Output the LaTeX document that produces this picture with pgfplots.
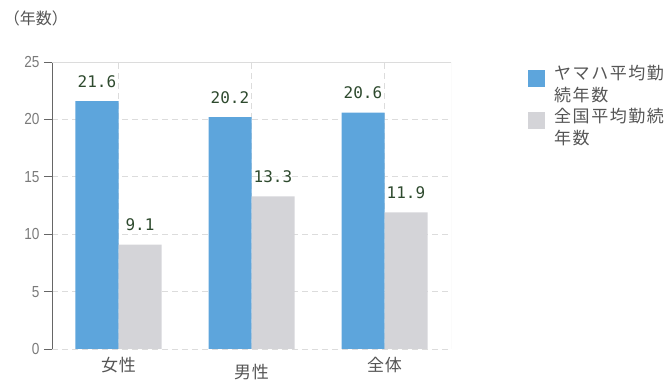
\documentclass[border=0pt]{standalone}
\usepackage{fontspec}
\setmainfont{Noto Sans CJK JP}
\newfontfamily\monofont{DejaVu Sans Mono}
\newfontfamily\tickfont[FakeStretch=0.85]{Liberation Sans}
\usepackage{pgfplots}
\pgfplotsset{compat=1.18}
\definecolor{barblue}{HTML}{5DA5DC}
\definecolor{bargray}{HTML}{D4D4D8}
\definecolor{gridc}{HTML}{DCDCDC}
\definecolor{axisc}{HTML}{666666}
\definecolor{valc}{HTML}{2E4A2E}
\definecolor{txtc}{HTML}{555555}
\definecolor{tickc}{HTML}{7A7A7A}
\begin{document}
\begin{tikzpicture}
\path (0pt,0pt) rectangle (672pt,382pt);
\begin{axis}[
  at={(52pt,33pt)}, anchor=south west,
  scale only axis, width=399pt, height=287pt,
  ymin=0, ymax=25, ytick={0,5,10,15,20,25},
  xmin=-0.5, xmax=2.5, xtick={0,1,2},
  xticklabels={女性,\raisebox{-7pt}[\height][\depth]{男性},全体},
  axis lines*=left,
  axis line style={axisc, line width=0.9pt},
  x axis line style={draw=none},
  ytick style={axisc, line width=0.9pt},
  ytick align=outside, major tick length=8pt,
  xtick style={draw=none},
  ymajorgrids, xmajorgrids,
  grid style={gridc, dashed, dash pattern=on 6pt off 4pt, line width=0.6pt},
  /pgf/number format/assume math mode=true,
  yticklabel style={font=\tickfont\fontsize{16pt}{16pt}\selectfont, text=tickc, xshift=-1pt},
  xticklabel style={font=\fontsize{17pt}{17pt}\selectfont\addfontfeatures{LetterSpace=5}, text=txtc, yshift=3pt},
  ylabel={（年数）},
  every axis y label/.style={at={(rel axis cs:0,1)}, anchor=center, xshift=-16pt, yshift=44pt, font=\fontsize{16pt}{16pt}\selectfont, text=txtc},
  ybar, bar width=43pt,
  nodes near coords,
  nodes near coords style={font=\monofont\fontsize{16pt}{16pt}\selectfont, text=valc, anchor=south, yshift=10pt},
  point meta=explicit symbolic,
  legend style={at={(rel axis cs:1.193,0.995)}, anchor=north west, draw=none, fill=none,
    font=\fontsize{17pt}{22pt}\selectfont\addfontfeatures{LetterSpace=9}, text=txtc,
    cells={align=left}, row sep=1pt, inner sep=0pt,
    /tikz/every odd column/.append style={column sep=7pt}},
  legend image code/.code={\fill[#1,draw=none] (0pt,-2pt) rectangle (17pt,15pt);},
]
\addplot[fill=barblue, draw=none, bar shift=-21.5pt] coordinates {(0,21.6) [21.6] (1,20.2) [20.2] (2,20.6) [20.6]};
\addplot[fill=bargray, draw=none, bar shift=21.5pt] coordinates {(0,9.1) [9.1] (1,13.3) [13.3] (2,11.9) [11.9]};
\legend{{ヤマハ平均勤\\続年数},{全国平均勤続\\年数}}
\draw[gridc, line width=0.8pt] (rel axis cs:0,1) -- (rel axis cs:1,1) -- (rel axis cs:1,0);
\draw[axisc, line width=0.9pt] ([xshift=-9pt]rel axis cs:0,0) -- (rel axis cs:1,0);
\end{axis}
\end{tikzpicture}
\end{document}
